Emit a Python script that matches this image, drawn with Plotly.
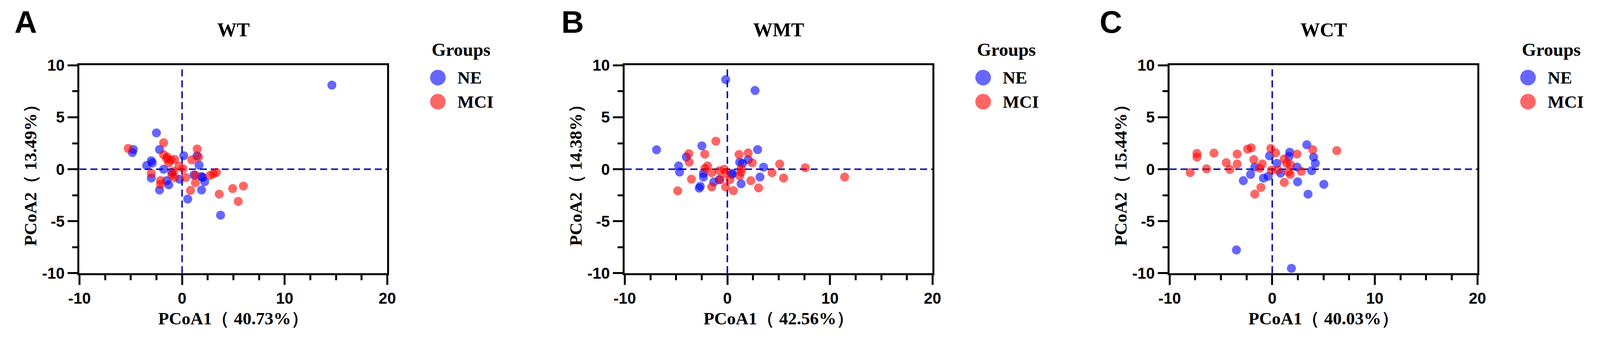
import plotly.graph_objects as go

# ---- values ----
panel_letters = ["A", "B", "C"]
panel_titles = ["WT", "WMT", "WCT"]
pcoa1_pct = ["40.73%", "42.56%", "40.03%"]
pcoa2_pct = ["13.49%", "14.38%", "15.44%"]
groups = ["NE", "MCI"]
group_colors = ["rgba(0,0,255,0.6)", "rgba(255,0,0,0.6)"]

x_ticks = [-10, 0, 10, 20]
x_tick_labels = ["-10", "0", "10", "20"]
y_ticks = [-10, -5, 0, 5, 10]
y_tick_labels = ["-10", "-5", "0", "5", "10"]

# WT
wt_ne_x = [-2.5, -4.75, -4.85, -2.2, -3.0, -2.9, -3.45, -1.8, 0.16, 1.45, 1.65, -3.0, -1.3,
           -1.5, -2.2, -0.25, 1.9, 0.55, 3.75, 2.0, 2.2, 1.15, 1.9, 14.6, -1.0]
wt_ne_y = [3.5, 1.9, 1.6, 1.9, 0.82, 0.6, 0.35, 0.0, 1.3, 1.3, 0.4, -0.85, -1.5,
           -1.1, -2.0, -0.96, -2.0, -2.87, -4.42, -0.79, -1.2, -0.56, -0.7, 8.1, -0.3]
wt_mci_x = [-5.25, -1.8, -1.8, -1.45, -1.1, -0.72, -1.3, 0.1, -0.8, -1.0, -0.72, -3.0, -2.1,
            -2.1, 1.47, 1.6, 0.95, 0.35, 1.3, 0.82, 2.72, 3.05, 3.35, 3.62, 4.93, 5.98,
            5.47, 1.3, -1.5, -0.3]
wt_mci_y = [2.0, 2.55, 1.4, 1.18, 0.9, 0.95, 0.6, 0.05, -0.2, -0.56, -0.8, -0.4, -1.1,
            -1.45, 1.95, 1.18, 0.9, -0.8, -1.3, -2.04, -0.6, -0.44, -0.3, -2.4, -1.86, -1.62,
            -3.1, -0.56, 1.0, 0.3]

# WMT
wmt_ne_x = [-0.16, 2.7, -6.9, -2.48, 2.95, -4.0, -4.75, -4.66, -2.33, -2.33, -2.64, -2.74,
            -1.32, -0.78, 0.45, 1.2, 1.48, 2.03, 3.53, 3.18, 1.34, 0.5]
wmt_ne_y = [8.63, 7.58, 1.87, 2.25, 1.89, 1.18, 0.32, -0.27, -0.75, -0.4, -1.64, -1.82,
            -1.23, -1.0, -0.5, 0.68, 0.56, 0.92, 0.2, -0.75, -1.4, -0.4]
wmt_mci_x = [-1.12, -2.2, -3.75, -3.72, -3.5, -4.84, -1.93, -2.2, -1.52, -0.78, -0.3, -0.16,
             -0.71, -1.52, -0.16, 0.59, 0.24, 1.2, 1.34, 1.14, 2.03, 2.43, 2.29, 3.04, 4.35,
             5.1, 5.48, 7.6, 11.43, 1.34]
wmt_mci_y = [2.7, 1.45, 1.5, 0.68, -0.96, -2.08, 0.32, 0.08, -0.33, -0.15, 0.0, -0.4,
             -1.0, -1.7, -1.7, -2.06, -1.0, -0.63, -0.27, 1.42, 1.57, 0.62, -1.1, -1.8, -0.33,
             0.5, -0.85, 0.14, -0.75, 0.08]

# WCT
wct_ne_x = [3.37, 1.7, 1.64, 4.03, 4.2, 3.84, -2.82, -2.11, -1.7, -0.86, -0.39, -0.26, 2.47,
            3.49, 5.03, 0.81, 2.41, 0.46, -3.49, 1.87]
wct_ne_y = [2.36, 1.64, 1.23, 1.17, 0.57, -0.14, -1.1, -0.5, 0.21, -0.86, -0.68, 1.29, -1.21,
            -2.4, -1.45, -0.38, 0.21, 0.57, -7.77, -9.54]
wct_mci_x = [-7.34, -7.34, -5.68, -8.0, -6.4, -4.48, -4.13, -3.42, -3.42, -2.4, -2.05, -1.8,
             -0.97, -1.1, -1.7, -0.14, 0.33, -0.08, 1.17, 1.4, 1.76, 1.76, 1.58, 2.41, 2.83,
             3.95, 6.29, 1.17, 0.57, -1.22]
wct_mci_y = [1.52, 1.17, 1.55, -0.32, 0.04, 0.63, -0.02, 1.46, 0.51, 1.94, 2.06, 0.93,
             0.51, -1.75, -2.4, 2.0, 1.58, -0.08, 0.99, 0.57, 0.45, -0.5, -0.26, 1.46, -0.2,
             1.88, 1.79, -1.27, -0.08, 0.1]

panel_data = [
    [(wt_ne_x, wt_ne_y), (wt_mci_x, wt_mci_y)],
    [(wmt_ne_x, wmt_ne_y), (wmt_mci_x, wmt_mci_y)],
    [(wct_ne_x, wct_ne_y), (wct_mci_x, wct_mci_y)],
]

# ---- layout geometry (pixels) ----
W, H = 4312, 889
plot_left = [186, 1674, 3161]
plot_w = 840
plot_top, plot_bottom = 153, 713

serif = "Liberation Serif"
sans = "Liberation Sans"
tick_font = dict(family=sans, size=40, color="black", weight="bold")
zero_line = dict(color="#1515a8", width=4, dash="18px,10px")


def px(x):
    return x / W


def py(y):
    return 1 - y / H


fig = go.Figure()
shapes = []
annotations = []

for i in range(3):
    ax = "" if i == 0 else str(i + 1)
    left = plot_left[i]
    right = left + plot_w
    cx = left + plot_w / 2

    for j, g in enumerate(groups):
        xs, ys = panel_data[i][j]
        fig.add_trace(go.Scatter(
            x=xs, y=ys, mode="markers", name=g, showlegend=False,
            xaxis="x" + ax, yaxis="y" + ax,
            marker=dict(size=23, color=group_colors[j], line=dict(width=0)),
        ))

    axis_common = dict(
        showline=True, linewidth=5, linecolor="black", mirror=True,
        showgrid=False, zeroline=False,
        ticks="outside", ticklen=25, tickwidth=5, tickcolor="black",
        tickfont=tick_font, tickmode="array",
        minor=dict(ticks="outside", ticklen=13, tickwidth=5, tickcolor="black",
                   tickmode="linear", tick0=0, dtick=2.5, showgrid=False),
    )
    fig.layout["xaxis" + ax] = dict(
        axis_common, domain=[px(left), px(right)], range=[-10, 20],
        tickvals=x_ticks, ticktext=x_tick_labels, anchor="y" + ax,
    )
    fig.layout["yaxis" + ax] = dict(
        axis_common, domain=[py(plot_bottom), py(plot_top)], range=[-10, 10],
        tickvals=y_ticks, ticktext=y_tick_labels, anchor="x" + ax,
    )

    # dashed zero lines
    shapes.append(dict(type="line", xref="x" + ax, yref="y" + ax + " domain",
                       x0=0, x1=0, y0=0, y1=1, line=zero_line, layer="below"))
    shapes.append(dict(type="line", xref="x" + ax + " domain", yref="y" + ax,
                       x0=0, x1=1, y0=0, y1=0, line=zero_line, layer="below"))

    # panel letter and title
    annotations.append(dict(text=panel_letters[i], x=px([6, 1499, 2968][i]), y=py(36),
                            xref="paper", yref="paper", xanchor="left", yanchor="middle",
                            showarrow=False,
                            font=dict(family=sans, size=80, color="black", weight="bold")))
    annotations.append(dict(text=panel_titles[i], x=px(cx), y=py(57), xref="paper", yref="paper",
                            xanchor="center", yanchor="middle", showarrow=False,
                            font=dict(family=serif, size=50, color="black", weight="bold")))

    # axis titles
    annotations.append(dict(text=f"PCoA1（ {pcoa1_pct[i]}）", x=px(cx), y=py(835),
                            xref="paper", yref="paper", xanchor="center", yanchor="middle",
                            showarrow=False,
                            font=dict(family=serif, size=45, color="black", weight="bold")))
    annotations.append(dict(text=f"PCoA2（ {pcoa2_pct[i]}）", x=px(left - 133), y=py(437),
                            xref="paper", yref="paper", xanchor="center", yanchor="middle",
                            textangle=-90, showarrow=False,
                            font=dict(family=serif, size=45, color="black", weight="bold")))

    # legend
    annotations.append(dict(text="Groups", x=px(right + 119), y=py(110), xref="paper", yref="paper",
                            xanchor="left", yanchor="middle", showarrow=False,
                            font=dict(family=serif, size=47, color="black", weight="bold")))
    for j, g in enumerate(groups):
        yc = 186 + 65 * j
        shapes.append(dict(type="circle", xref="paper", yref="paper",
                           xsizemode="pixel", ysizemode="pixel",
                           xanchor=px(right + 138), yanchor=py(yc),
                           x0=-20, x1=20, y0=-20, y1=20,
                           fillcolor=group_colors[j], line=dict(width=0)))
        annotations.append(dict(text=g, x=px(right + 189), y=py(yc), xref="paper", yref="paper",
                                xanchor="left", yanchor="middle", showarrow=False,
                                font=dict(family=serif, size=45, color="black", weight="bold")))

fig.update_layout(
    width=W, height=H,
    margin=dict(l=0, r=0, t=0, b=0),
    paper_bgcolor="white", plot_bgcolor="white",
    showlegend=False,
    shapes=shapes, annotations=annotations,
)

# no page margin, and fit the figure to the window width actually available
fit_page = ("document.body.style.margin='0';document.body.style.overflow='hidden';"
            "Plotly.relayout('{plot_id}', {width: window.innerWidth});")
fig.write_html("out.html", post_script=fit_page,
               config={"displayModeBar": False})
